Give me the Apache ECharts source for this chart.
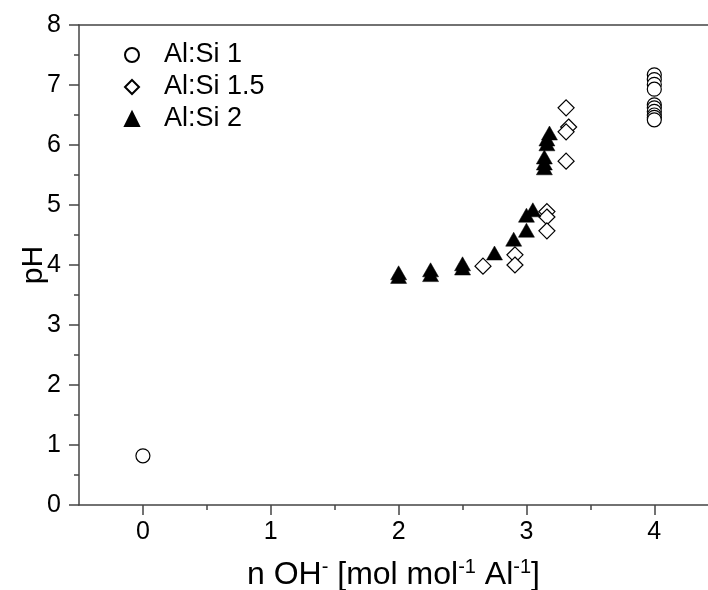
<!DOCTYPE html>
<html>
<head>
<meta charset="utf-8">
<script src="https://cdn.jsdelivr.net/npm/echarts@6/dist/echarts.min.js"></script>
<style>html,body{margin:0;padding:0;background:#fff}#c{width:708px;height:590px}</style>
</head>
<body>
<div id="c"></div>
<script>
const seriesNames = ['Al:Si 1', 'Al:Si 1.5', 'Al:Si 2'];
const xAlSi1 = [0, 4, 4, 4, 4, 4, 4, 4, 4, 4, 4];
const yAlSi1 = [0.82, 7.17, 7.09, 7.01, 6.93, 6.67, 6.62, 6.56, 6.5, 6.46, 6.42];
const xAlSi15 = [2.66, 2.91, 2.91, 3.16, 3.16, 3.16, 3.31, 3.33, 3.31, 3.31];
const yAlSi15 = [3.98, 4.17, 4.0, 4.89, 4.8, 4.57, 6.62, 6.3, 6.22, 5.73];
const xAlSi2 = [2.0, 2.0, 2.25, 2.25, 2.5, 2.5, 2.75, 2.9, 3.0, 3.0, 3.05, 3.14, 3.14, 3.14, 3.16, 3.16, 3.18];
const yAlSi2 = [3.87, 3.81, 3.92, 3.84, 4.02, 3.95, 4.2, 4.43, 4.58, 4.83, 4.92, 5.62, 5.7, 5.8, 6.02, 6.1, 6.2];
const xMajorTicks = [0, 1, 2, 3, 4];
const xMinorTicks = [0.5, 1.5, 2.5, 3.5];

const pair = (xs, ys) => xs.map((x, i) => [x, ys[i]]);
const FONT = 'Liberation Sans, Arial, sans-serif';
const AX = '#444';

const chart = echarts.init(document.getElementById('c'));
chart.setOption({
  animation: false,
  backgroundColor: '#fff',
  textStyle: { fontFamily: FONT },
  grid: { left: 79, top: 25, right: 0, bottom: 85, containLabel: false, outerBoundsMode: 'none' },
  legend: {
    orient: 'vertical', left: 119, top: 36, itemGap: 4,
    itemWidth: 14, itemHeight: 14,
    textStyle: { fontSize: 27, lineHeight: 28, color: '#000', fontFamily: FONT, padding: [0, 0, 0, 20] },
    data: seriesNames
  },
  xAxis: [
    {
      type: 'value', min: -0.5, max: 4.42,
      axisLine: { show: true, onZero: false, lineStyle: { color: AX, width: 1.5 } },
      axisTick: { show: true, length: 10, customValues: xMajorTicks, lineStyle: { color: AX, width: 1.5 } },
      axisLabel: { customValues: xMajorTicks, fontSize: 25, color: '#000', margin: 15, fontFamily: FONT },
      splitLine: { show: false },
      name: 'n OH{sup|-} [mol mol{sup|-1} Al{sup|-1}]',
      nameLocation: 'middle', nameGap: 52, nameMoveOverlap: false,
      nameTextStyle: {
        fontSize: 32, color: '#000', fontFamily: FONT,
        rich: { sup: { fontSize: 20, color: '#000', fontFamily: FONT, padding: [0, 0, 16, 0] } }
      }
    },
    {
      type: 'value', min: -0.5, max: 4.42, position: 'bottom', gridIndex: 0,
      axisLine: { show: false, onZero: false },
      axisTick: { show: true, length: 5, customValues: xMinorTicks, lineStyle: { color: AX, width: 1.5 } },
      axisLabel: { show: false },
      splitLine: { show: false }
    },
    {
      type: 'value', min: -0.5, max: 4.42, position: 'top', gridIndex: 0,
      axisLine: { show: true, onZero: false, lineStyle: { color: AX, width: 1.5 } },
      axisTick: { show: false }, axisLabel: { show: false }, splitLine: { show: false }
    }
  ],
  yAxis: {
    type: 'value', min: 0, max: 8, interval: 1,
    axisLine: { show: true, onZero: false, lineStyle: { color: AX, width: 1.5 } },
    axisTick: { show: true, length: 10, lineStyle: { color: AX, width: 1.5 } },
    minorTick: { show: true, splitNumber: 2, length: 5, lineStyle: { color: AX, width: 1.5 } },
    axisLabel: { fontSize: 25, color: '#000', margin: 18, fontFamily: FONT },
    splitLine: { show: false },
    name: 'pH', nameLocation: 'middle', nameGap: 30, nameMoveOverlap: false,
    nameTextStyle: { fontSize: 30, color: '#000', fontFamily: FONT }
  },
  series: [
    {
      name: seriesNames[0], type: 'scatter', symbol: 'circle', symbolSize: 14,
      itemStyle: { color: '#fff', borderColor: '#000', borderWidth: 1.2, opacity: 1 },
      data: pair(xAlSi1, yAlSi1)
    },
    {
      name: seriesNames[1], type: 'scatter', symbol: 'diamond', symbolSize: [16, 16],
      itemStyle: { color: '#fff', borderColor: '#000', borderWidth: 1.2, opacity: 1 },
      data: pair(xAlSi15, yAlSi15)
    },
    {
      name: seriesNames[2], type: 'scatter', symbol: 'triangle', symbolSize: [16, 14],
      itemStyle: { color: '#000', borderColor: '#000', borderWidth: 0.5, opacity: 1 },
      data: pair(xAlSi2, yAlSi2)
    }
  ]
});
</script>
</body>
</html>
